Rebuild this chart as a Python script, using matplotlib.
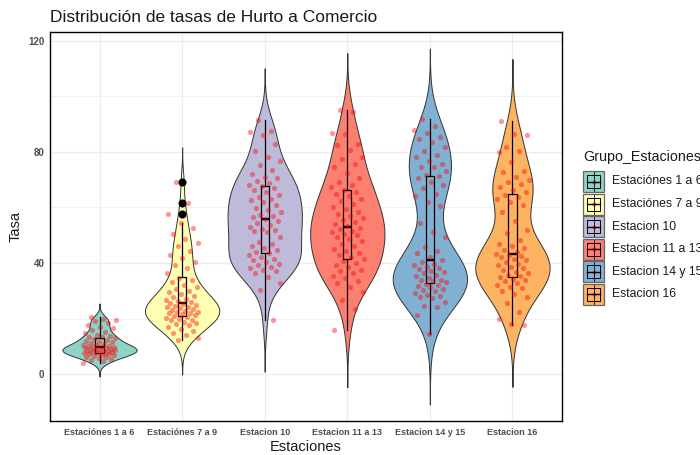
import numpy as np
import matplotlib
matplotlib.use("Agg")
import matplotlib.pyplot as plt
from matplotlib.patches import Rectangle

plt.rcParams['font.family'] = ['Liberation Sans', 'DejaVu Sans']

categories = ["Estaciónes 1 a 6", "Estaciónes 7 a 9", "Estacion 10",
              "Estacion 11 a 13", "Estacion 14 y 15", "Estacion 16"]
colors = ["#8DD3C7", "#FFFFB3", "#BEBADA", "#FB8072", "#80B1D3", "#FDB462"]

g1 = [3.9, 4.6, 5.0, 5.3, 5.8, 6.1, 6.3, 6.6, 6.9, 7.0, 7.2, 7.4, 7.5, 7.6, 7.7, 7.9, 8.0, 8.1,
      8.3, 8.4, 8.5, 8.6, 8.8, 8.9, 9.0, 9.2, 9.3, 9.5, 9.6, 9.7, 9.8, 10.0, 10.2, 10.4, 10.6,
      10.9, 11.1, 11.4, 11.7, 12.0, 12.3, 12.6, 12.9, 13.2, 13.4, 13.8, 14.2, 14.7, 15.2, 15.9,
      16.5, 17.1, 17.7, 18.5, 19.1, 19.5, 20.0, 20.6]
g2 = [12.3, 13.0, 14.2, 14.7, 15.5, 16.3, 17.1, 17.6, 18.0, 18.5, 18.9, 19.3, 19.6, 20.0, 20.3,
      20.6, 20.9, 21.2, 21.5, 21.9, 22.0, 22.2, 22.5, 22.8, 23.1, 23.4, 23.8, 24.0, 24.1, 24.5,
      24.9, 25.3, 25.7, 26.0, 26.4, 26.8, 27.2, 27.7, 28.2, 28.8, 29.4, 30.1, 30.8, 31.5, 32.2,
      33.0, 33.9, 34.6, 36.3, 38.1, 39.3, 40.5, 41.7, 42.9, 44.5, 46.0, 47.1, 48.5, 50.5, 52.5,
      54.4, 57.6, 61.6, 69.2]
g3 = [19.5, 30.3, 32.7, 35.0, 36.3, 37.0, 37.6, 38.2, 38.7, 39.3, 39.8, 40.4, 41.1, 41.6, 42.2,
      42.8, 43.5, 44.1, 44.8, 45.5, 46.2, 47.0, 47.7, 49.3, 51.3, 51.6, 52.0, 52.4, 53.0, 53.7,
      54.5, 55.2, 55.9, 56.6, 57.0, 57.4, 58.2, 59.0, 59.9, 60.9, 61.8, 62.7, 63.0, 63.6, 64.5,
      65.4, 66.2, 67.0, 67.8, 68.2, 68.7, 69.6, 70.5, 71.1, 72.0, 73.5, 75.3, 76.8, 78.3, 80.5,
      83.0, 86.1, 87.3, 87.6, 91.5]
g4 = [15.9, 23.4, 26.7, 29.5, 31.5, 32.9, 33.5, 34.6, 35.5, 36.3, 37.0, 37.6, 38.4, 39.2, 40.0,
      40.6, 41.4, 42.2, 43.0, 43.6, 44.3, 45.2, 46.3, 47.0, 47.8, 48.6, 49.3, 50.0, 50.6, 51.0,
      51.6, 52.1, 52.6, 53.4, 54.0, 54.7, 55.5, 56.2, 57.0, 57.8, 58.5, 59.3, 60.2, 61.3, 62.2,
      63.1, 64.0, 64.8, 65.5, 66.4, 67.2, 68.0, 69.0, 70.5, 72.3, 74.4, 75.5, 77.4, 78.3, 80.7,
      82.5, 83.0, 86.5, 87.0, 94.3, 95.0]
g5 = [14.4, 21.4, 24.0, 24.6, 26.0, 27.3, 27.9, 28.2, 28.5, 29.3, 30.0, 30.3, 30.6, 31.2, 31.7,
      32.0, 32.6, 33.0, 33.4, 33.8, 34.0, 34.5, 35.2, 35.8, 36.3, 36.8, 37.3, 37.8, 38.1, 38.7,
      39.2, 39.8, 40.5, 41.2, 42.0, 43.6, 44.2, 45.7, 49.5, 51.2, 54.3, 60.5, 62.0, 64.0, 65.0,
      67.0, 68.0, 69.2, 70.5, 71.2, 71.7, 73.0, 74.4, 74.7, 75.7, 76.9, 78.1, 78.9, 80.2, 81.9,
      83.7, 84.8, 85.5, 86.7, 88.0, 89.4, 91.8]
g6 = [17.7, 18.1, 19.9, 22.5, 25.5, 27.6, 28.8, 30.1, 31.0, 31.5, 32.2, 32.8, 33.4, 33.9, 34.2,
      34.8, 35.3, 35.7, 36.3, 36.8, 37.4, 38.1, 38.7, 39.3, 39.8, 40.4, 41.0, 41.5, 42.0, 42.5,
      42.9, 43.4, 44.1, 44.8, 45.3, 46.0, 47.0, 48.4, 50.8, 52.0, 55.0, 58.5, 61.0, 62.1, 63.0,
      63.6, 64.5, 65.5, 66.4, 67.5, 68.5, 69.3, 69.9, 71.0, 72.7, 73.2, 76.5, 80.1, 80.4, 81.9,
      86.1, 86.5, 91.2]
groups = [g1, g2, g3, g4, g5, g6]

y_ticks = [0, 40, 80, 120]

fig = plt.figure(figsize=(7.0, 4.55), dpi=100)
ax = fig.add_axes([50/700, 1-421/455, 512/700, 389/455])


def kde(vals):
    v = np.asarray(vals, float)
    n = len(v)
    sd = v.std(ddof=1)
    q1, q3 = np.percentile(v, [25, 75])
    bw = 0.9 * min(sd, (q3 - q1) / 1.34) * n ** (-0.2)
    grid = np.linspace(v.min() - 3 * bw, v.max() + 3 * bw, 512)
    d = np.exp(-0.5 * ((grid[:, None] - v[None, :]) / bw) ** 2).sum(1)
    return grid, d / d.max()


for i, (vals, col) in enumerate(zip(groups, colors)):
    pos = i + 1
    gy, dens = kde(vals)
    w = 0.45 * dens
    ax.fill_betweenx(gy, pos - w, pos + w, facecolor=col, edgecolor='#333333',
                     linewidth=0.7, zorder=2)

ax.boxplot(groups, positions=range(1, 7), widths=0.1, whis=1.5, showcaps=False,
           manage_ticks=False,
           boxprops=dict(color='black', linewidth=0.9),
           whiskerprops=dict(color='black', linewidth=0.9),
           medianprops=dict(color='black', linewidth=1.7),
           flierprops=dict(marker='o', markerfacecolor='black', markeredgecolor='black',
                           markersize=4.8),
           zorder=3)

for i, vals in enumerate(groups):
    pos = i + 1
    k = np.arange(len(vals))
    off = 0.2 * (2 * ((k * 0.6180339 + 0.37 * i) % 1.0) - 1)
    ax.scatter(pos + off, vals, s=14, color='red', alpha=0.42, linewidths=0, zorder=4)

ax.set_xlim(0.4, 6.6)
ax.set_ylim(-16.9, 123.2)
ax.set_yticks(y_ticks)
ax.set_yticklabels([str(t) for t in y_ticks])
ax.set_yticks([20, 60, 100], minor=True)
ax.set_xticks(range(1, 7))
ax.set_xticklabels(categories)
ax.grid(True, which='major', color='#EBEBEB', linewidth=0.9, zorder=0)
ax.grid(True, which='minor', axis='y', color='#F0F0F0', linewidth=0.7, zorder=0)
ax.set_axisbelow(True)
ax.tick_params(axis='x', which='both', length=0, colors='#4D4D4D', labelsize=6.5, pad=5)
ax.tick_params(axis='y', which='both', length=0, colors='#4D4D4D', labelsize=7, pad=4)
for lab in ax.get_xticklabels() + ax.get_yticklabels():
    lab.set_fontweight('bold')
for sp in ax.spines.values():
    sp.set_color('black')
    sp.set_linewidth(1.0)

ax.set_xlabel("Estaciones", fontsize=10.5, color='#1A1A1A', labelpad=2)
ax.set_ylabel("Tasa", fontsize=10.5, color='#1A1A1A', labelpad=4)
fig.text(50/700, 1-17/455, "Distribución de tasas de Hurto a Comercio", fontsize=12.5,
         color='#1A1A1A', ha='left', va='center')

# legend (drawn in pixel coordinates)
lax = fig.add_axes([0, 0, 1, 1])
lax.set_xlim(0, 700)
lax.set_ylim(455, 0)
lax.axis('off')
lax.patch.set_alpha(0)
lax.text(583, 157, "Grupo_Estaciones", fontsize=10.3, color='#1A1A1A', ha='left', va='center')
for j, (name, col) in enumerate(zip(categories, colors)):
    top = 171 + j * 22.5
    lax.add_patch(Rectangle((583, top), 21, 21, facecolor=col, edgecolor='#666666',
                            linewidth=0.9))
    cx, cy = 593.5, top + 10.5
    lax.add_patch(Rectangle((587, top + 4), 13, 13, facecolor='none', edgecolor='black',
                            linewidth=0.7))
    lax.plot([cx, cx], [top + 1, top + 20], color='black', linewidth=0.6)
    lax.plot([587, 600], [cy, cy], color='black', linewidth=1.0)
    lax.scatter([cx], [cy], s=8, color='red', alpha=0.6, linewidths=0)
    lax.text(612, cy, name, fontsize=8.8, color='#1A1A1A', ha='left', va='center')

fig.savefig("out.png", dpi=100)
